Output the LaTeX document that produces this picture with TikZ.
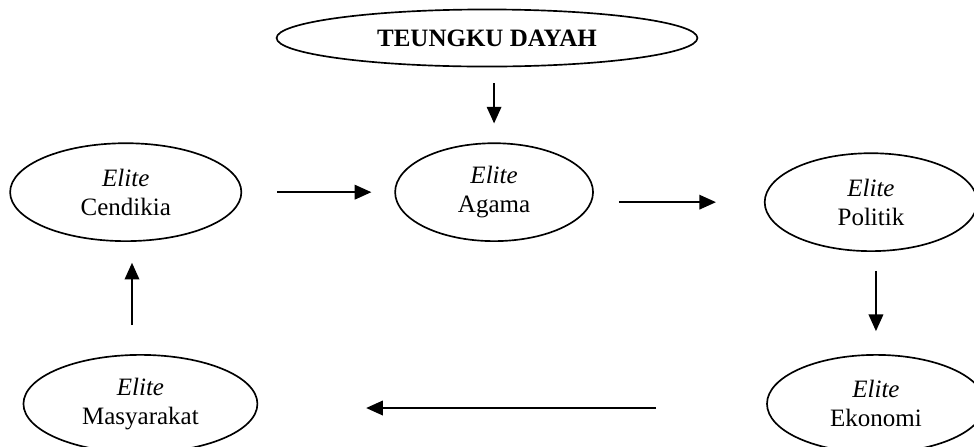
\documentclass[tikz,border=0pt]{standalone}
\usepackage{fontspec}
\setmainfont{Liberation Serif}
\usetikzlibrary{positioning,shapes.geometric,arrows.meta}

\begin{document}
\begin{tikzpicture}[x=0.48pt,y=-0.48pt,
		elips/.style={shape=ellipse,draw,line width=0.8pt,inner sep=0pt,minimum height=47pt,align=center,font=\fontsize{12}{14}\selectfont},
		panah/.style={-{Triangle[width=7pt,length=8pt]},line width=0.8pt}]
		\useasboundingbox (0,0) rectangle (974,446);
		\node(teungku) [elips,minimum width=202pt,minimum height=27.4pt,font=\fontsize{12}{14}\selectfont\bfseries] at (487,38) {TEUNGKU DAYAH};
		\node(agama) [below=36pt of teungku,xshift=3.4pt,elips,minimum width=95pt] {\textit{Elite}\\Agama};
		\node(cendikia) [left=73pt of agama,elips,minimum width=111pt] {\textit{Elite}\\Cendikia};
		\node(politik) [right=81.6pt of agama,yshift=-4.8pt,elips,minimum width=102pt] {\textit{Elite}\\Politik};
		\node(ekonomi) [below=49pt of politik,xshift=2.4pt,elips,minimum width=104.6pt] {\textit{Elite}\\Ekonomi};
		\node(masyarakat) [left=243.8pt of ekonomi,elips,minimum width=112.3pt] {\textit{Elite}\\Masyarakat};
		\draw[panah,shorten <=7.7pt,shorten >=9.1pt] (agama.north |- teungku.south) -- (agama.north);
		\draw[panah,shorten <=16.8pt,shorten >=11pt] (cendikia) -- (agama);
		\draw[panah,shorten <=12pt,shorten >=23pt] (agama.east |- politik.west) -- (politik.west);
		\draw[panah,shorten <=9.1pt,shorten >=11pt] (ekonomi.north |- politik.south) -- (ekonomi.north);
		\draw[panah,shorten <=52.8pt,shorten >=51.8pt] ([yshift=-2pt]ekonomi.west) -- ([yshift=-2pt]masyarakat.east);
		\draw[panah,shorten <=13.9pt,shorten >=10pt] ([xshift=3pt]cendikia.south |- masyarakat.north) -- ([xshift=3pt]cendikia.south);
	\end{tikzpicture}
\end{document}
